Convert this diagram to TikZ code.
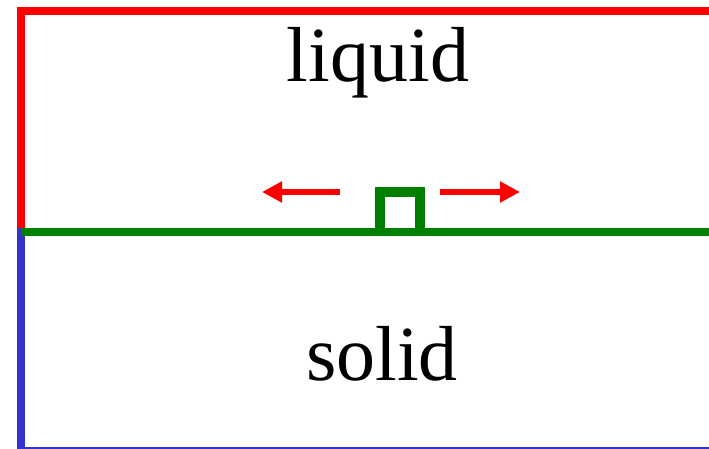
\documentclass[tikz,border=0pt]{standalone}
\usepackage{fontspec}
\setmainfont{Liberation Serif}
\usetikzlibrary{arrows.meta}
\definecolor{myred}{RGB}{255,0,0}
\definecolor{mygreen}{RGB}{0,128,0}
\definecolor{myblue}{RGB}{51,51,204}
\tikzset{
  redline/.style={draw=myred, line width=8pt, line join=miter},
  blueline/.style={draw=myblue, line width=7.5pt, line join=miter},
  greenline/.style={draw=mygreen, line width=8.5pt},
  notch/.style={draw=mygreen, line width=10pt, line join=miter},
  moveArrow/.style={draw=myred, line width=6pt, -{Triangle[length=20pt,width=20pt]}},
  label/.style={font=\fontsize{78}{90}\selectfont, anchor=base, inner sep=0pt}
}
\begin{document}
\begin{tikzpicture}[x=1pt,y=-1pt]
\useasboundingbox (0,0) rectangle (709,449);
\clip (0,0) rectangle (709,449);
% corners / ends
\coordinate (rtop) at (21,11.5);
\coordinate (rbot) at (21,228);
\coordinate (rend) at (715,11.5);
\coordinate (bbot) at (21,451);
\coordinate (bend) at (715,451);
\coordinate (gl) at (21,232);
\coordinate (gr) at (715,232);
\coordinate (sq1) at (380,232);
\coordinate (sq2) at (380,192);
\coordinate (sq3) at (420,192);
\coordinate (sq4) at (420,232);
\coordinate (la) at (340,192);
\coordinate (lb) at (262,192);
\coordinate (ra) at (440,192);
\coordinate (rb) at (520,192);
% boundaries
\draw[redline] (rbot) -- (rtop) -- (rend);
\draw[blueline] (rbot) -- (bbot) -- (bend);
\draw[greenline] (gl) -- (gr);
\draw[notch] (sq1) -- (sq2) -- (sq3) -- (sq4);
% arrows
\draw[moveArrow] (la) -- (lb);
\draw[moveArrow] (ra) -- (rb);
% labels
\node[label] (liquid) at (378,82) {liquid};
\node[label] (solid) at (382,380) {solid};
\end{tikzpicture}
\end{document}
